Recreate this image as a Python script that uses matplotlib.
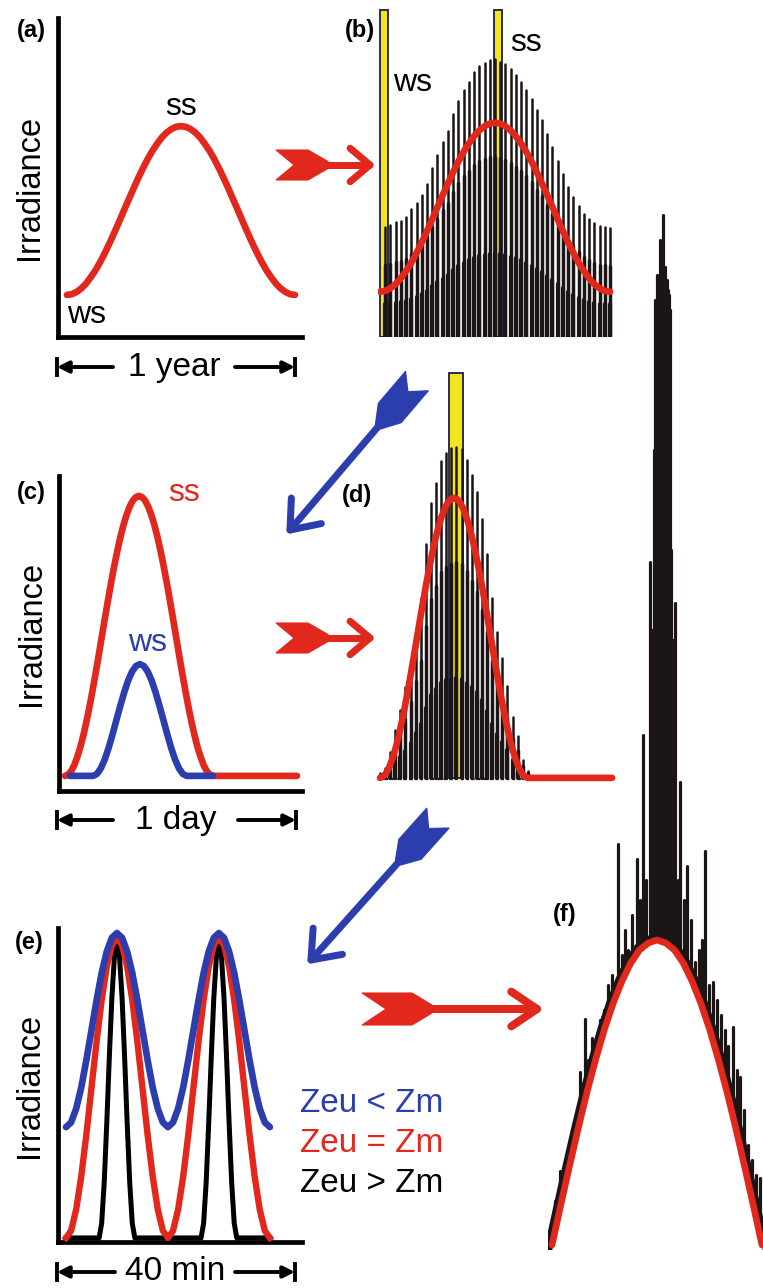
import numpy as np
import matplotlib
matplotlib.use("Agg")
import matplotlib.pyplot as plt
from matplotlib.patches import Rectangle, Polygon

W, H = 763, 1288
RED = "#e2271c"
BLUE = "#2c3dae"
INK = "#1b1515"
YELLOW = "#f3e621"
NAVY = "#1c1c4c"

plt.rcParams["font.family"] = ["Liberation Sans", "DejaVu Sans"]

# ---- data (read off the schematic) ----
# (a)/(b) seasonal cycle, sampled every quarter month
year_months = np.arange(0, 12.25, 0.25)
year_irr = [0.132, 0.134, 0.141, 0.152, 0.167, 0.187, 0.209, 0.235, 0.264, 0.295, 0.328, 0.362,
            0.397, 0.431, 0.465, 0.498, 0.529, 0.558, 0.584, 0.606, 0.626, 0.641, 0.652, 0.659,
            0.661,
            0.659, 0.652, 0.641, 0.626, 0.606, 0.584, 0.558, 0.529, 0.498, 0.465, 0.431, 0.397,
            0.362, 0.328, 0.295, 0.264, 0.235, 0.209, 0.187, 0.167, 0.152, 0.141, 0.134, 0.132]

# (b) daily maxima through the year
b_peaks = [0.336, 0.34, 0.35, 0.355, 0.365, 0.39, 0.41, 0.435, 0.47, 0.52, 0.56,
           0.60, 0.635, 0.69, 0.73, 0.765, 0.79, 0.82, 0.84, 0.85, 0.858, 0.86,
           0.852, 0.845, 0.83, 0.81, 0.79, 0.765, 0.735, 0.70, 0.67, 0.625,
           0.585, 0.54, 0.50, 0.46, 0.43, 0.40, 0.375, 0.36, 0.348, 0.338, 0.336, 0.331]
solstice_months = [0.23, 6.18]   # ws, ss windows

# (c)/(d) daily cycle
ss_hours = list(np.linspace(0, 15.3, 49)) + [24]
ss_irr = [0.048, 0.052, 0.063, 0.082, 0.108, 0.140, 0.178, 0.222, 0.270, 0.322, 0.377, 0.434,
          0.493, 0.551, 0.608, 0.663, 0.715, 0.763, 0.807, 0.845, 0.877, 0.903, 0.922, 0.933,
          0.937,
          0.933, 0.922, 0.903, 0.877, 0.845, 0.807, 0.763, 0.715, 0.663, 0.608, 0.551, 0.493,
          0.434, 0.377, 0.322, 0.270, 0.222, 0.178, 0.140, 0.108, 0.082, 0.063, 0.052, 0.048,
          0.048]
ws_hours = [0.5] + list(np.linspace(2.9, 12.6, 25)) + [15.3]
ws_irr = [0.048,
          0.048, 0.054, 0.072, 0.100, 0.137, 0.180, 0.226, 0.271, 0.314, 0.351, 0.379, 0.397,
          0.403,
          0.397, 0.379, 0.351, 0.314, 0.271, 0.226, 0.180, 0.137, 0.100, 0.072, 0.054, 0.048,
          0.048]

# (d) mixing-cycle maxima during one summer day
d_peaks = [0.062, 0.08, 0.13, 0.20, 0.265, 0.335, 0.42, 0.52, 0.62, 0.79, 0.92, 0.985,
           1.055, 1.08, 1.095, 1.10, 1.093, 1.056, 1.01, 0.955, 0.87, 0.76, 0.62, 0.51,
           0.43, 0.34, 0.24, 0.18, 0.105, 0.07]
d_window_hour = 7.86

# (e) 40 min of mixing
e_minutes = np.arange(0, 41)
e_red = [0.013, 0.036, 0.104, 0.210, 0.343, 0.491, 0.638, 0.771, 0.877, 0.945, 0.968,
         0.945, 0.877, 0.771, 0.638, 0.491, 0.343, 0.210, 0.104, 0.036, 0.013,
         0.036, 0.104, 0.210, 0.343, 0.491, 0.638, 0.771, 0.877, 0.945, 0.968,
         0.945, 0.877, 0.771, 0.638, 0.491, 0.343, 0.210, 0.104, 0.036, 0.013]
e_blue = [0.366, 0.381, 0.425, 0.493, 0.580, 0.675, 0.770, 0.857, 0.925, 0.969, 0.984,
          0.969, 0.925, 0.857, 0.770, 0.675, 0.580, 0.493, 0.425, 0.381, 0.366,
          0.381, 0.425, 0.493, 0.580, 0.675, 0.770, 0.857, 0.925, 0.969, 0.984,
          0.969, 0.925, 0.857, 0.770, 0.675, 0.580, 0.493, 0.425, 0.381, 0.366]
e_black_min = [0] + list(np.arange(6.5, 14, 0.5)) + list(np.arange(26.5, 34, 0.5)) + [40]
pulse = [0.013, 0.060, 0.190, 0.379, 0.589, 0.778, 0.908, 0.955,
         0.908, 0.778, 0.589, 0.379, 0.190, 0.060, 0.013]
e_black = [0.013] + pulse + pulse + [0.013]

# (f) one day of fluctuating irradiance
f_hours = np.arange(6, 18.5, 0.5)
f_red = [0.005, 0.045, 0.084, 0.122, 0.158, 0.191, 0.221, 0.247, 0.269, 0.287, 0.300, 0.307, 0.310,
         0.307, 0.300, 0.287, 0.269, 0.247, 0.221, 0.191, 0.158, 0.122, 0.084, 0.045, 0.005]
f_spike_hours = [6.00, 6.17, 6.34, 6.46, 6.63, 6.86, 7.03, 7.31, 7.60, 7.77, 7.89, 8.06, 8.29,
                 8.51, 8.74, 8.97, 9.20, 9.43, 9.66, 9.77, 10.00, 10.17, 10.34, 10.57, 10.86,
                 11.03, 11.20, 11.37, 11.60, 11.71, 11.83, 11.89, 12.00, 12.11, 12.17, 12.23,
                 12.33, 12.40, 12.46, 12.57, 12.63, 12.69, 12.74, 12.80, 12.91, 13.03, 13.20,
                 13.31, 13.54, 13.71, 13.94, 14.17, 14.40, 14.57, 14.74, 14.97, 15.20, 15.43,
                 15.66, 15.89, 16.06, 16.34, 16.57, 16.74, 16.97, 17.20, 17.43, 17.66, 17.89]
f_spike_tops = [0.025, 0.049, 0.055, 0.079, 0.070, 0.090, 0.100, 0.113, 0.178, 0.150, 0.231,
                0.190, 0.212, 0.200, 0.230, 0.240, 0.265, 0.275, 0.260, 0.406, 0.295, 0.320,
                0.300, 0.335, 0.391, 0.350, 0.515, 0.370, 0.688, 0.620, 0.800, 0.950, 0.975,
                0.975, 1.010, 0.975, 1.035, 0.983, 0.983, 0.970, 0.960, 0.955, 0.940, 0.700,
                0.610, 0.647, 0.370, 0.468, 0.350, 0.384, 0.330, 0.288, 0.300, 0.310, 0.399,
                0.265, 0.268, 0.250, 0.235, 0.220, 0.204, 0.223, 0.180, 0.173, 0.140, 0.105,
                0.090, 0.075, 0.072]


def box(x0, y0, x1, y1):
    return [x0 / W, 1 - y1 / H, (x1 - x0) / W, (y1 - y0) / H]


def axis_panel(ax):
    for s in ["top", "right"]:
        ax.spines[s].set_visible(False)
    for s in ["left", "bottom"]:
        ax.spines[s].set_linewidth(3.4)
        ax.spines[s].set_capstyle("projecting")
    ax.set_xticks([])
    ax.set_yticks([])
    ax.patch.set_alpha(0)


def bare_panel(ax):
    ax.set_axis_off()
    ax.patch.set_alpha(0)


def spikes(ax, xs, tops, base, tiers=((1.0, 1.8), (0.65, 2.5), (0.3, 3.0))):
    # each spike drawn as stacked strokes: thin tip, wider body, widest foot
    tops = np.asarray(tops)
    for frac, lw in tiers:
        ax.vlines(xs, base, base + (tops - base) * frac, color=INK, lw=lw,
                  capstyle="round", zorder=2)


def fig_text(x, y, s, **kw):
    fig.text(x / W, 1 - y / H, s, va="center", **kw)


def fletched_arrow(ax, tail, tip, color, half_w, notch, body, taper, shaft, head_len, head_ang=38):
    tail = np.array(tail, float)
    tip = np.array(tip, float)
    u = (tip - tail) / np.linalg.norm(tip - tail)
    n = np.array([-u[1], u[0]])

    def P(s, t):
        return tail + u * s + n * t

    poly = [P(0, half_w), P(notch, 0), P(0, -half_w), P(body, -half_w),
            P(body + taper, -shaft / 2), P(body + taper, shaft / 2), P(body, half_w)]
    ax.add_patch(Polygon(poly, closed=True, fc=color, ec=color, lw=0.8, zorder=5))
    lw = shaft / 1.389
    start = P(body + taper - 1, 0)
    ax.plot([start[0], tip[0]], [start[1], tip[1]], color=color, lw=lw,
            solid_capstyle="butt", zorder=5)
    for sgn in (1, -1):
        a = np.radians(head_ang) * sgn
        b = -u
        d = np.array([b[0] * np.cos(a) - b[1] * np.sin(a), b[0] * np.sin(a) + b[1] * np.cos(a)])
        end = tip + d * head_len
        ax.plot([tip[0], end[0]], [tip[1], end[1]], color=color, lw=lw,
                solid_capstyle="round", zorder=5)


def span_arrow(ax, x0, x1, x2, x3, y, label):
    # |<-- label -->|
    for a, b in [(x0, x1), (x3, x2)]:
        ax.annotate("", xy=(a, y), xytext=(b, y),
                    arrowprops=dict(arrowstyle="-|>", lw=2.8, color="k", mutation_scale=17,
                                    shrinkA=0, shrinkB=0))
        ax.plot([a, a], [y - 8, y + 8], color="k", lw=2.8)
    ax.text((x1 + x2) / 2, y, label, ha="center", va="center", fontsize=24)


fig = plt.figure(figsize=(W / 100, H / 100), dpi=100)

# (a)
ax_a = fig.add_axes(box(58, 18, 302, 337))
axis_panel(ax_a)
ax_a.set_xlim(-0.47, 12.37)
ax_a.set_ylim(0, 1)
ax_a.plot(year_months, year_irr, color=RED, lw=4.8, solid_capstyle="round")
ax_a.text(-0.115, 0.47, "Irradiance", rotation=90, ha="center", va="center",
          fontsize=23.5, transform=ax_a.transAxes)

# (b)
ax_b = fig.add_axes(box(378, 0, 615, 337))
bare_panel(ax_b)
ax_b.set_xlim(-0.10, 12.26)
ax_b.set_ylim(-0.01, 1.046)
for m in solstice_months:
    ax_b.add_patch(Rectangle((m - 0.21, -0.01), 0.42, 1.025, fc=YELLOW, ec=NAVY, lw=1.3, zorder=1))
b_x = np.linspace(0, 12, len(b_peaks) + 1)[1:]
spikes(ax_b, b_x, b_peaks, -0.01)
ax_b.plot([b_x[0], b_x[-1]], [-0.012, -0.012], ls=(0, (1, 1.6)), color=INK, lw=1.6, zorder=2)
ax_b.plot(year_months, year_irr, color=RED, lw=4.8, solid_capstyle="round", zorder=3)

# (c)
ax_c = fig.add_axes(box(59, 476, 302, 791))
axis_panel(ax_c)
ax_c.set_xlim(-0.62, 24.52)
ax_c.set_ylim(0, 1)
ax_c.plot(ss_hours, ss_irr, color=RED, lw=4.8, solid_capstyle="round")
ax_c.plot(ws_hours, ws_irr, color=BLUE, lw=4.8, solid_capstyle="round")
ax_c.text(-0.115, 0.5, "Irradiance", rotation=90, ha="center", va="center",
          fontsize=23.5, transform=ax_c.transAxes)

# (d)
ax_d = fig.add_axes(box(374, 362, 617, 793))
bare_panel(ax_d)
ax_d.set_xlim(-0.62, 24.52)
ax_d.set_ylim(0, 431 / 315)
ax_d.add_patch(Rectangle((d_window_hour - 0.72, 0.048), 1.45, 1.285, fc=YELLOW, ec=NAVY,
                         lw=1.3, zorder=1))
d_x = np.linspace(0, 15.3, len(d_peaks))
spikes(ax_d, d_x, d_peaks, 0.048)
ax_d.plot([d_x[0], d_x[-1]], [0.044, 0.044], ls=(0, (1, 1.6)), color=INK, lw=1.6, zorder=2)
ax_d.plot(ss_hours, ss_irr, color=RED, lw=4.8, solid_capstyle="round", zorder=3)

# (e)
ax_e = fig.add_axes(box(58, 928, 302, 1242))
axis_panel(ax_e)
ax_e.set_xlim(-1.57, 46.3)
ax_e.set_ylim(0, 1)
ax_e.plot(e_black_min, e_black, color="k", lw=3.6, zorder=2)
ax_e.plot(e_minutes, e_red, color=RED, lw=4.6, zorder=3)
ax_e.plot(e_minutes, e_blue, color=BLUE, lw=4.8, solid_capstyle="round", zorder=4)
ax_e.text(-0.115, 0.5, "Irradiance", rotation=90, ha="center", va="center",
          fontsize=23.5, transform=ax_e.transAxes)

# (f)
ax_f = fig.add_axes(box(548, 200, 763, 1250))
bare_panel(ax_f)
ax_f.set_xlim(5.771, 18.057)
ax_f.set_ylim(0, 1.05)
spikes(ax_f, f_spike_hours, f_spike_tops, 0.0, tiers=((1.0, 2.3),))
ax_f.plot(f_hours, f_red, color=INK, lw=10, zorder=3)
ax_f.fill_between(f_hours, 0, f_red, color="white", lw=0, zorder=4)
ax_f.plot(f_hours, f_red, color=RED, lw=4.8, solid_capstyle="round", zorder=5)

# text labels
for lab, x, y in [("(a)", 17, 30), ("(b)", 345, 30), ("(c)", 17, 492),
                  ("(d)", 342, 495), ("(e)", 15, 943), ("(f)", 553, 915)]:
    fig_text(x, y, lab, fontsize=17, fontweight="bold")
fig_text(165, 107, "ss", fontsize=23)
fig_text(67, 315, "ws", fontsize=23)
fig_text(393, 83, "ws", fontsize=23)
fig_text(510, 43, "ss", fontsize=23)
fig_text(168, 493, "ss", fontsize=23, color=RED)
fig_text(128, 643, "ws", fontsize=23, color=BLUE)
fig_text(300, 1103, "Zeu < Zm", fontsize=24, color=BLUE)
fig_text(300, 1143, "Zeu = Zm", fontsize=24, color=RED)
fig_text(300, 1183, "Zeu > Zm", fontsize=24, color="k")

# overlay for arrows (pixel coordinates)
ov = fig.add_axes([0, 0, 1, 1], zorder=10)
ov.set_xlim(0, W)
ov.set_ylim(H, 0)
ov.set_axis_off()
ov.patch.set_alpha(0)

span_arrow(ov, 57, 113, 235, 295, 367, "1 year")
span_arrow(ov, 57, 113, 238, 296, 820, "1 day")
span_arrow(ov, 57, 115, 235, 295, 1272, "40 min")

fletched_arrow(ov, (276, 165), (370, 165), RED, 15, 18, 32, 20, 7, 26, 40)
fletched_arrow(ov, (276, 638), (370, 638), RED, 15, 18, 32, 20, 7, 26, 40)
fletched_arrow(ov, (362, 1009), (537, 1009), RED, 16, 24, 50, 20, 8, 31, 34)
fletched_arrow(ov, (417, 381), (290, 530), BLUE, 15, 14, 42, 18, 7, 32, 38)
fletched_arrow(ov, (438, 818), (311, 960), BLUE, 15, 14, 42, 18, 7, 32, 38)

fig.savefig("out.png", dpi=100)
